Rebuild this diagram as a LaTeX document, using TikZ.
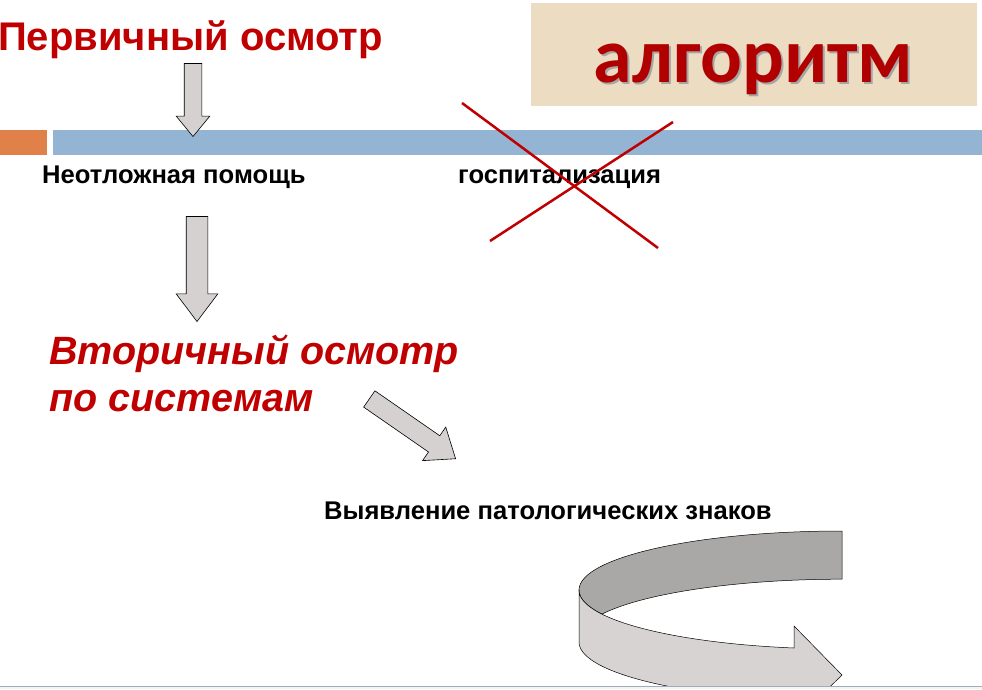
\documentclass[tikz,border=0pt]{standalone}
\usepackage{fontspec}
\setmainfont{Liberation Sans}
\newfontfamily\calibrifont{Carlito}
\usetikzlibrary{shapes.arrows}

\definecolor{titlered}{HTML}{C00000}
\definecolor{algred}{HTML}{B00000}
\definecolor{algbeige}{HTML}{EBDCC2}
\definecolor{barorange}{HTML}{DF8148}
\definecolor{barblue}{HTML}{93B4D2}
\definecolor{arrowgrey}{HTML}{D5D1D1}
\definecolor{banddark}{HTML}{A9A8A7}
\definecolor{bandlight}{HTML}{D6D3D2}
\definecolor{stripfill}{HTML}{F1F4F8}
\definecolor{stripline}{HTML}{A3ABB3}

\begin{document}
\begin{tikzpicture}[x=1pt, y=-1pt,
  blockarrow/.style={single arrow, draw=black, line width=0.6pt, fill=arrowgrey,
    inner xsep=0, single arrow head indent=0},
  bigtext/.style={anchor=base west, inner sep=0, text=titlered},
  smalltext/.style={anchor=base west, inner sep=0, font=\bfseries\fontsize{25.6}{30}\selectfont}]

\useasboundingbox (0,0) rectangle (982,689);

% heading box
\node[fill=algbeige, minimum width=446, minimum height=103, inner sep=0] (algbox) at (754,54.5) {};
\node[anchor=base, inner sep=0, text=black!35, font=\calibrifont\bfseries\fontsize{78}{90}\selectfont] (algshadow) at (755.5,84.5) {алгоритм};
\node[anchor=base, inner sep=0, text=algred, font=\calibrifont\bfseries\fontsize{78}{90}\selectfont] (alg) at (753.5,82) {алгоритм};

% bars
\node[fill=barorange, minimum width=47, minimum height=25, inner sep=0] (orangebar) at (23.5,142.5) {};
\node[fill=barblue, minimum width=929, minimum height=25, inner sep=0] (bluebar) at (517.5,142.5) {};

% texts
\node[bigtext, font=\bfseries\fontsize{40}{46}\selectfont] (first) at (-2,50) {Первичный осмотр};
\node[smalltext] (urgent) at (42,183) {Неотложная помощь};
\node[smalltext] (hosp) at (458,183) {госпитализация};
\node[bigtext, align=left, font=\bfseries\itshape\fontsize{39.5}{47}\selectfont] (second) at (49,411) {Вторичный осмотр\\по системам};
\node[smalltext] (signs) at (324,519) {Выявление патологических знаков};

% block arrows
\node[blockarrow, inner ysep=8.5, single arrow head extend=8, single arrow tip angle=79,
  minimum height=73, rotate=-90, anchor=tip] (arr1) at (193,137) {};
\node[blockarrow, inner ysep=10.5, single arrow head extend=10, single arrow tip angle=74,
  minimum height=105, rotate=-90, anchor=tip] (arr2) at (197,322) {};
\node[blockarrow, inner ysep=9.6, single arrow head extend=10.5, single arrow tip angle=76,
  minimum height=105, rotate=-34.7, anchor=tip] (arr3) at (456,459) {};

% crossed out
\draw[titlered, line width=2.5pt] (462,103) -- (658,248);
\draw[titlered, line width=2.5pt] (673,122) -- (490,241);

% curved arrow
\begin{scope}
\clip (0,0) rectangle (982,686);
\draw[fill=banddark, line width=0.5pt] (842,531)
  arc[start angle=270, end angle=180, x radius=263, y radius=59]
  arc[start angle=180, end angle=155.9, x radius=263, y radius=59]
  arc[start angle=204.1, end angle=270, x radius=263, y radius=59] -- cycle;
\draw[fill=bandlight, line width=0.5pt] (579,590) -- (579,642)
  arc[start angle=180, end angle=100.5, x radius=263, y radius=59]
  -- (794,722) -- (842,675) -- (794,626) -- (794,648)
  arc[start angle=100.5, end angle=180, x radius=263, y radius=59] -- cycle;
\end{scope}

% bottom strip
\fill[stripfill] (0,686) rectangle (982,689);
\draw[stripline, line width=0.8pt] (0,686) -- (982,686);

\end{tikzpicture}
\end{document}
